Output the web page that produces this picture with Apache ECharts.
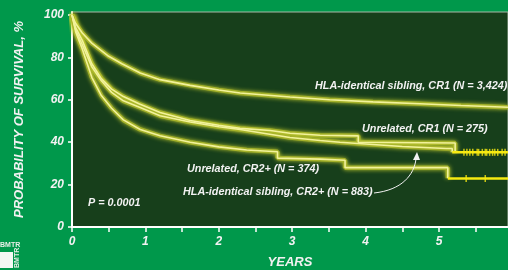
<!DOCTYPE html>
<html>
<head>
<meta charset="utf-8">
<script src="https://cdn.jsdelivr.net/npm/echarts@6/dist/echarts.min.js"></script>
<style>
  html, body { margin: 0; padding: 0; background: #00984b; }
  #chart { width: 508px; height: 270px; }
</style>
</head>
<body>
<div id="chart"></div>
<script>
// survival curves (years, %)
var sibCR1Years = [0, 0.05, 0.14, 0.27, 0.5, 0.68, 0.93, 1.2, 1.61, 2.0, 2.29, 2.97, 3.51, 4.1, 4.74, 5.3, 5.94];
var sibCR1Surv  = [100, 96, 91.5, 86.7, 80.5, 77, 72.6, 69.5, 66.8, 64.6, 63.2, 61.3, 60, 59, 58.1, 57.3, 56.5];

var unrCR1Years = [0, 0.05, 0.14, 0.27, 0.4, 0.54, 0.7, 0.92, 1.2, 1.61, 2.0, 2.29, 2.7, 2.97, 3.38, 3.9, 3.9, 5.22, 5.22];
var unrCR1Surv  = [100, 94, 88, 77, 70, 65, 61.5, 58, 54, 50.2, 48, 46.5, 45.5, 44.2, 43.3, 43, 40, 39.6, 35.3];

var sibCR2Years = [0, 0.05, 0.14, 0.27, 0.4, 0.54, 0.7, 0.92, 1.2, 1.61, 2.0, 2.29, 2.97, 3.38, 3.65, 4.5, 5.1, 5.18, 5.18];
var sibCR2Surv  = [100, 93, 86, 75.5, 69, 63.5, 59.5, 56.5, 52.5, 49.5, 47.3, 46, 42.2, 40.8, 40, 38, 37, 37, 35.3];

var unrCR2Years = [0, 0.05, 0.14, 0.27, 0.4, 0.54, 0.7, 0.93, 1.2, 1.61, 2.0, 2.38, 2.8, 2.8, 3.38, 3.72, 3.72, 5.12, 5.12];
var unrCR2Surv  = [100, 92, 84, 70.6, 62, 56, 50.5, 46, 43, 40, 37.8, 36.3, 35.5, 32.5, 32, 31.5, 28, 28, 23];

// flat tails after last event, with censoring marks
var sibCR2TailYears = [5.18, 5.94];
var sibCR2TailSurv = 35.2;
var sibCR2Censor = [5.34, 5.38, 5.42, 5.46, 5.52, 5.54, 5.59, 5.63, 5.65, 5.69, 5.73, 5.76, 5.8, 5.86, 5.9];
var unrCR2TailYears = [5.12, 5.94];
var unrCR2TailSurv = 22.9;
var unrCR2Censor = [5.37, 5.63];

var yTicks = [0, 20, 40, 60, 80, 100];
var xLabels = [0, 1, 2, 3, 4, 5];
var xTicks = [0, 0.5, 1, 1.5, 2, 2.5, 3, 3.5, 4, 4.5, 5, 5.5];

function pairs(xs, ys) {
    var out = [];
    for (var i = 0; i < xs.length; i++) {
        out.push([xs[i], Array.isArray(ys) ? ys[i] : ys]);
    }
    return out;
}

var font = 'Liberation Sans, Arial, sans-serif';
var labelFont = 'italic bold 10.8px Liberation Sans, Arial, sans-serif';
var halo = {color: '#a9b52a', width: 4.5, shadowBlur: 4, shadowColor: '#c8d030', opacity: 0.9};
var core = {color: '#f2f29a', width: 1.6};
var bright = {color: '#f7ea12', width: 2.5};

// each curve is drawn twice: a soft olive halo and a pale core
function curve(name, xs, ys) {
    return [
        {name: name, type: 'line', data: pairs(xs, ys), showSymbol: false, lineStyle: halo, z: 2, silent: true},
        {name: name, type: 'line', data: pairs(xs, ys), showSymbol: false, lineStyle: core, z: 3, silent: true}
    ];
}
function tail(name, xs, y) {
    return {name: name, type: 'line', data: pairs(xs, y), showSymbol: false, lineStyle: bright, z: 4, silent: true};
}
function censor(name, xs, y) {
    return {name: name, type: 'scatter', data: pairs(xs, y), symbol: 'rect', symbolSize: [1.5, 7],
        itemStyle: {color: '#f7ea12'}, z: 5, silent: true};
}

var series = [].concat(
    curve('HLA-identical sibling, CR1', sibCR1Years, sibCR1Surv),
    curve('Unrelated, CR1', unrCR1Years, unrCR1Surv),
    curve('HLA-identical sibling, CR2+', sibCR2Years, sibCR2Surv),
    curve('Unrelated, CR2+', unrCR2Years, unrCR2Surv),
    [
        tail('HLA-identical sibling, CR2+ tail', sibCR2TailYears, sibCR2TailSurv),
        tail('Unrelated, CR2+ tail', unrCR2TailYears, unrCR2TailSurv),
        censor('HLA-identical sibling, CR2+ censored', sibCR2Censor, sibCR2TailSurv),
        censor('Unrelated, CR2+ censored', unrCR2Censor, unrCR2TailSurv)
    ]
);

var chart = echarts.init(document.getElementById('chart'));
chart.setOption({
    animation: false,
    backgroundColor: '#00984b',
    grid: {
        left: 72, right: 0, top: 12, bottom: 43,
        outerBoundsMode: 'none', containLabel: false,
        show: true, backgroundColor: '#173f1b', borderColor: '#a9b8a8', borderWidth: 1
    },
    xAxis: {
        type: 'value', min: 0, max: 5.94,
        axisLine: {lineStyle: {color: '#ffffff', width: 2}},
        axisTick: {length: 5, lineStyle: {color: '#ffffff', width: 1.5}, customValues: xTicks},
        axisLabel: {color: '#f2f2f2', fontFamily: font, fontStyle: 'italic', fontWeight: 'bold', fontSize: 12,
            margin: 9, customValues: xLabels},
        splitLine: {show: false},
        name: 'YEARS', nameLocation: 'middle', nameGap: 29,
        nameTextStyle: {color: '#f2f2f2', fontFamily: font, fontStyle: 'italic', fontWeight: 'bold', fontSize: 13}
    },
    yAxis: {
        type: 'value', min: 0, max: 101.4,
        axisLine: {show: true, lineStyle: {color: '#ffffff', width: 2}},
        axisTick: {show: true, length: 4, lineStyle: {color: '#ffffff', width: 1.5}, customValues: yTicks},
        axisLabel: {color: '#f2f2f2', fontFamily: font, fontStyle: 'italic', fontWeight: 'bold', fontSize: 12,
            margin: 8, customValues: yTicks},
        splitLine: {show: false},
        name: 'PROBABILITY OF SURVIVAL, %', nameLocation: 'middle', nameGap: 46,
        nameTextStyle: {color: '#f2f2f2', fontFamily: font, fontStyle: 'italic', fontWeight: 'bold', fontSize: 13}
    },
    series: series,
    graphic: [
        // curve labels
        {type: 'text', left: 315, top: 81, z: 10, style: {text: 'HLA-identical sibling, CR1 (N = 3,424)', fill: '#f2f2f2', font: labelFont}},
        {type: 'text', left: 362, top: 124, z: 10, style: {text: 'Unrelated, CR1 (N = 275)', fill: '#f2f2f2', font: labelFont}},
        {type: 'text', left: 187, top: 164, z: 10, style: {text: 'Unrelated, CR2+ (N = 374)', fill: '#f2f2f2', font: labelFont}},
        {type: 'text', left: 183, top: 187, z: 10, style: {text: 'HLA-identical sibling, CR2+ (N = 883)', fill: '#f2f2f2', font: labelFont}},
        {type: 'text', left: 88, top: 198, z: 10, style: {text: 'P = 0.0001', fill: '#f2f2f2', font: labelFont}},
        // arrow from the CR2+ sibling label to its curve
        {type: 'bezierCurve', z: 10, shape: {x1: 374, y1: 193, x2: 416, y2: 159, cpx1: 402, cpy1: 190, cpx2: 414, cpy2: 175},
            style: {stroke: '#f2f2f2', lineWidth: 1, fill: null}},
        {type: 'polygon', z: 10, shape: {points: [[417, 152], [413, 160], [420, 160]]}, style: {fill: '#f2f2f2'}},
        // BMTR logo
        {type: 'text', left: 0, top: 242, z: 10, style: {text: 'BMTR', fill: '#e8efe8', font: 'bold 7px Liberation Sans, Arial'}},
        {type: 'rect', z: 10, shape: {x: 0, y: 252, width: 13, height: 16}, style: {fill: '#f4f8f4'}},
        {type: 'text', x: 14, y: 268, rotation: Math.PI / 2, z: 10,
            style: {text: 'BMTR', fill: '#e8efe8', font: 'bold 7px Liberation Sans, Arial'}}
    ]
});
</script>
</body>
</html>
